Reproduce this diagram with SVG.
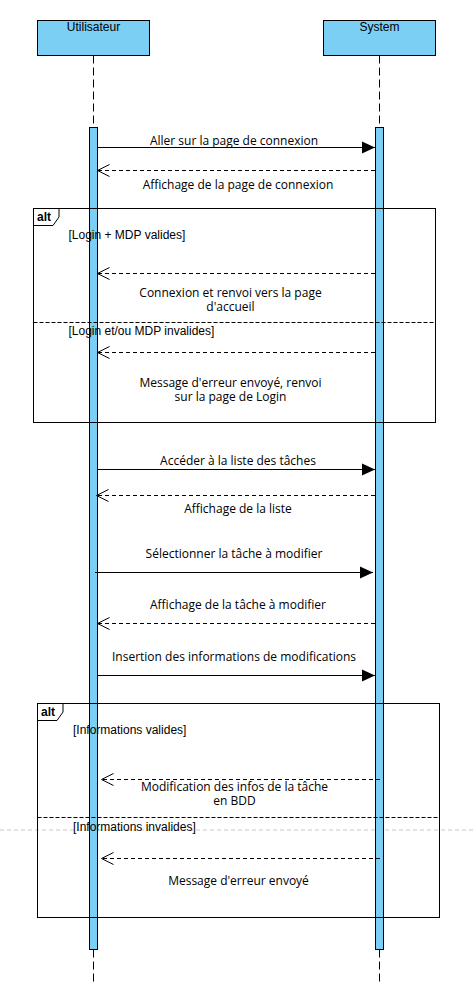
<svg xmlns="http://www.w3.org/2000/svg" width="474" height="1006" viewBox="0 0 474 1006">
<style>
.hdr{fill:#7BCFF4;stroke:#000;stroke-width:1}
.act{fill:#7BCFF4;stroke:#000;stroke-width:1}
.life{stroke:#000;stroke-width:1;stroke-dasharray:8 4;fill:none}
.sync{stroke:#000;stroke-width:1;fill:none;marker-end:url(#filled)}
.ret{stroke:#000;stroke-width:1;stroke-dasharray:4 3;fill:none;marker-end:url(#open)}
.frame{fill:none;stroke:#000;stroke-width:1}
.div{stroke:#000;stroke-width:1;stroke-dasharray:4 2}
.lbl{font-family:"Liberation Sans",Arial,sans-serif;font-size:12px;fill:#000}
.alt{font-family:"Liberation Sans",Arial,sans-serif;font-size:12px;font-weight:bold;fill:#000}
.msg{font-family:"Open Sans","Noto Sans",sans-serif;font-size:12px;fill:#000;text-anchor:middle}
</style>
<defs>
<marker id="filled" markerUnits="userSpaceOnUse" markerWidth="14" markerHeight="14" refX="13" refY="6" orient="auto" overflow="visible">
<path d="M0,0 L13,6 L0,12 Z" fill="#000"/>
</marker>
<marker id="open" markerUnits="userSpaceOnUse" markerWidth="14" markerHeight="14" refX="12" refY="6" orient="auto" overflow="visible">
<path d="M0,0 L12,6 L0,12" fill="none" stroke="#000" stroke-width="1"/>
</marker>
</defs>
<rect width="474" height="1006" fill="#fff"/>
<line x1="0" y1="830" x2="474" y2="830" stroke="#c8c8c8" stroke-width="1" stroke-dasharray="4 3"/>

<g id="utilisateur">
<rect class="hdr" x="37.5" y="20.5" width="112" height="35"/>
<text class="lbl" x="93.5" y="31" text-anchor="middle">Utilisateur</text>
<line class="life" x1="93.5" y1="55.5" x2="93.5" y2="127.5"/>
<line class="life" x1="93.5" y1="949.5" x2="93.5" y2="982"/>
<rect class="act" x="89.5" y="127.5" width="8" height="822"/>
</g>
<g id="system">
<rect class="hdr" x="323.5" y="20.5" width="112" height="35"/>
<text class="lbl" x="379.5" y="31" text-anchor="middle">System</text>
<line class="life" x1="379.5" y1="55.5" x2="379.5" y2="127.5"/>
<line class="life" x1="379.5" y1="949.5" x2="379.5" y2="982"/>
<rect class="act" x="375.5" y="127.5" width="8" height="822"/>
</g>

<g id="alt1">
<rect class="frame" x="33.5" y="208.5" width="402" height="214"/>
<path class="frame" d="M33.5,225.5 H53 L59,217 V208.5"/>
<text class="alt" x="37" y="221">alt</text>
<text class="lbl" x="68.5" y="239">[Login + MDP valides]</text>
<line class="div" x1="33.5" y1="322.5" x2="435.5" y2="322.5"/>
<text class="lbl" x="68.5" y="335">[Login et/ou MDP invalides]</text>
</g>

<g id="alt2">
<rect class="frame" x="37.5" y="703.5" width="402" height="214"/>
<path class="frame" d="M37.5,720.5 H57 L63,712 V703.5"/>
<text class="alt" x="41" y="716">alt</text>
<text class="lbl" x="73" y="734">[Informations valides]</text>
<line class="div" x1="37.5" y1="817.5" x2="439.5" y2="817.5"/>
<text class="lbl" x="73" y="831">[Informations invalides]</text>
</g>

<g id="connectors">
<line class="sync" x1="97" y1="147.5" x2="375" y2="147.5"/>
<text class="msg" x="234" y="145">Aller sur la page de connexion</text>

<line class="ret" x1="375" y1="170.5" x2="97.5" y2="170.5"/>
<text class="msg" x="238" y="189">Affichage de la page de connexion</text>

<line class="ret" x1="375" y1="273.5" x2="97.5" y2="273.5"/>
<text class="msg" x="230.5" y="296.5">Connexion et renvoi vers la page<tspan x="230.5" dy="14">d'accueil</tspan></text>

<line class="ret" x1="375" y1="352.5" x2="97.5" y2="352.5"/>
<text class="msg" x="230.5" y="386.5">Message d'erreur envoyé, renvoi<tspan x="230.5" dy="14">sur la page de Login</tspan></text>

<line class="sync" x1="97" y1="469.5" x2="375" y2="469.5"/>
<text class="msg" x="238" y="465">Accéder à la liste des tâches</text>

<line class="ret" x1="375" y1="495.5" x2="96.5" y2="495.5"/>
<text class="msg" x="238" y="513">Affichage de la liste</text>

<line class="sync" x1="95" y1="572.5" x2="373" y2="572.5"/>
<text class="msg" x="234" y="558">Sélectionner la tâche à modifier</text>

<line class="ret" x1="375" y1="623.5" x2="97.5" y2="623.5"/>
<text class="msg" x="238" y="609">Affichage de la tâche à modifier</text>

<line class="sync" x1="97" y1="675.5" x2="375" y2="675.5"/>
<text class="msg" x="234" y="661">Insertion des informations de modifications</text>

<line class="ret" x1="380" y1="779.5" x2="101.5" y2="779.5"/>
<text class="msg" x="234.5" y="791">Modification des infos de la tâche<tspan x="234.5" dy="14">en BDD</tspan></text>

<line class="ret" x1="380" y1="858.5" x2="101.5" y2="858.5"/>
<text class="msg" x="238.5" y="885">Message d'erreur envoyé</text>
</g>
</svg>
